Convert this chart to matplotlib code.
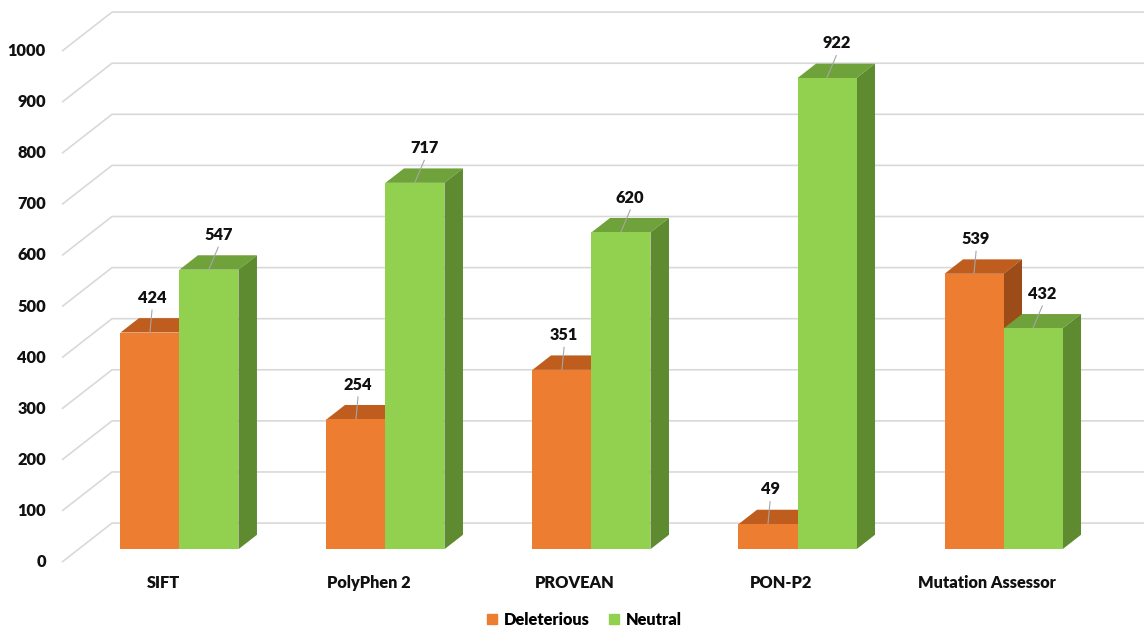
import matplotlib
matplotlib.use("Agg")
import matplotlib.pyplot as plt
from matplotlib.patches import Patch

categories = ["SIFT", "PolyPhen 2", "PROVEAN", "PON-P2", "Mutation Assessor"]
deleterious = [424, 254, 351, 49, 539]
neutral = [547, 717, 620, 922, 432]
y_ticks = [0, 100, 200, 300, 400, 500, 600, 700, 800, 900, 1000]

plt.rcParams['font.family'] = ['Lato', 'DejaVu Sans']
plt.rcParams['font.weight'] = 'heavy'

# oblique projection: depth d in [0, 1] shifts right and up
DX = 0.2427
DY = 76.3
D0, D1 = 0.33, 0.70
W = 0.2864
FS = 11.8


def proj(x, v, d):
    return x + d * DX, v + d * DY


fig = plt.figure(figsize=(11.44, 6.29), dpi=100)
ax = fig.add_axes([0, 0, 1, 1])
ax.set_xlim(-0.791, 4.762)
ax.set_ylim(-131, 1100)
ax.axis("off")

# gridlines (side wall diagonal + back wall horizontal)
GX = -0.49
for t in y_ticks:
    p0 = proj(GX, t, 0)
    p1 = proj(GX, t, 1)
    ax.plot([p0[0], p1[0], 4.9], [p0[1], p1[1], p1[1]], color="#d9d9d9",
            lw=1.2, zorder=1, solid_capstyle="butt")
    ax.text(p0[0] - 0.078, t, str(t), ha="right", va="center", fontsize=FS,
            color="#111111")

# colours: front, top, side
styles = [("#ED7D31", "#BF5D1F", "#9C4C19"),
          ("#92D050", "#6FA23B", "#5E8A30")]


def draw_bar(x0, v, cols, z):
    x1 = x0 + W
    front, top, side = cols
    face = [proj(x0, 0, D0), proj(x1, 0, D0), proj(x1, v, D0), proj(x0, v, D0)]
    tp = [proj(x0, v, D0), proj(x1, v, D0), proj(x1, v, D1), proj(x0, v, D1)]
    sd = [proj(x1, 0, D0), proj(x1, v, D0), proj(x1, v, D1), proj(x1, 0, D1)]
    for poly, c in [(tp, top), (sd, side), (face, front)]:
        xs, ys = zip(*poly)
        ax.fill(xs, ys, color=c, lw=0, zorder=z)


for i in range(len(categories)):
    for k, vals in enumerate([deleterious, neutral]):
        x0 = i - W if k == 0 else i
        v = vals[i]
        draw_bar(x0, v, styles[k], 2 + k)
        # data label with leader line
        fx, fy = proj(x0 + W / 2, v, D0)
        lx = fx + (0.01 if k == 0 else 0.045)
        ly = fy + 68
        ax.text(lx, ly, str(v), ha="center", va="center", fontsize=FS,
                color="#111111", zorder=6)
        ax.plot([lx, fx], [ly - 24, fy + 1], color="#a6a6a6", lw=0.8, zorder=5)
    ax.text(i, -41, categories[i], ha="center", va="center", fontsize=FS,
            color="#111111")

handles = [Patch(color=styles[0][0], label="Deleterious"),
           Patch(color=styles[1][0], label="Neutral")]
ax.legend(handles=handles, loc="center", bbox_to_anchor=(0.511, 0.015),
          ncol=2, frameon=False, fontsize=FS, handlelength=0.6,
          handleheight=0.6, handletextpad=0.4, columnspacing=1.2)

fig.savefig("out.png", dpi=100)
